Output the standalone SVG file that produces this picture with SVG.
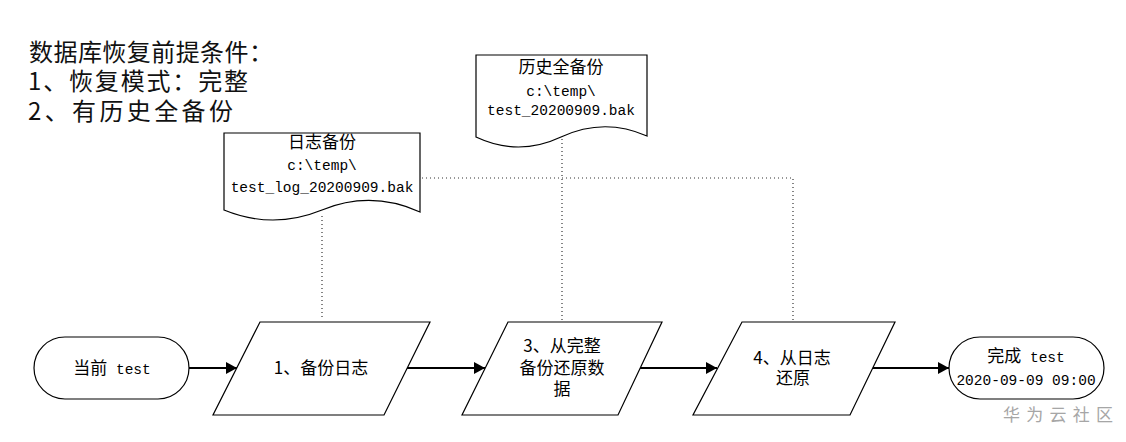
<svg xmlns="http://www.w3.org/2000/svg" width="1126" height="442" viewBox="0 0 1126 442">
<style>
text{fill:#000}
.sh{fill:#fff;stroke:#000;stroke-width:1.2}
.cj{font-family:"Noto Sans CJK SC",sans-serif;font-size:17px}
.mo{font-family:"Liberation Mono","Noto Sans CJK SC",monospace;font-size:14.5px}
.t{text-anchor:middle}
.ttl{font-family:"Noto Sans CJK SC",sans-serif;font-size:24px;fill:#111}
.ln{fill:none;stroke:#000;stroke-width:1.8}
.dot{fill:none;stroke:#333;stroke-width:1.2;stroke-dasharray:1 3}
.wm{font-family:"Noto Sans CJK SC",sans-serif;font-size:17px;fill:#a6a6a6}
</style>
<defs>
<marker id="ah" markerWidth="12" markerHeight="12" refX="11" refY="6" orient="auto" markerUnits="userSpaceOnUse">
<path d="M0,0 L11,6 L0,12 z" fill="#000"/>
</marker>
</defs>
<rect width="1126" height="442" fill="#fff"/>

<g id="title">
<text class="ttl" x="29" y="61" textLength="244" lengthAdjust="spacing">数据库恢复前提条件：</text>
<text class="ttl" x="28" y="90" textLength="220" lengthAdjust="spacing">1、恢复模式：完整</text>
<text class="ttl" x="28" y="120" textLength="205" lengthAdjust="spacing">2、有历史全备份</text>
</g>

<g id="connectors">
<path class="dot" d="M322,216 V320"/>
<path class="dot" d="M562,139 V320"/>
<path class="dot" d="M422,178 H793 V320"/>
<path class="ln" d="M189,368 H237" marker-end="url(#ah)"/>
<path class="ln" d="M407,368 H485" marker-end="url(#ah)"/>
<path class="ln" d="M640,368 H717" marker-end="url(#ah)"/>
<path class="ln" d="M872,368 H949" marker-end="url(#ah)"/>
</g>

<g id="doc-log">
<path class="sh" d="M224,210 V133 H420 V212 Q371,190 322,210 Q273,230 224,210 Z"/>
<text class="cj t" x="322" y="148">日志备份</text>
<text class="mo t" x="322" y="170">c:\temp\</text>
<text class="mo t" x="322" y="192">test_log_20200909.bak</text>
</g>

<g id="doc-full">
<path class="sh" d="M476,137 V55 H647 V136 Q604,117 561,137 Q518.5,157 476,137 Z"/>
<text class="cj t" x="561" y="73">历史全备份</text>
<text class="mo t" x="561" y="96">c:\temp\</text>
<text class="mo t" x="561" y="115">test_20200909.bak</text>
</g>

<g id="start">
<rect class="sh" x="34" y="337" width="155" height="62" rx="31" ry="31"/>
<text class="cj t" x="112" y="374">当前<tspan class="mo"> test</tspan></text>
</g>

<g id="step1">
<path class="sh" d="M260,322 H430 L384,415 H213 Z"/>
<text class="cj t" x="321" y="374">1、备份日志</text>
</g>

<g id="step3">
<path class="sh" d="M508,322 H662 L618,415 H462 Z"/>
<text class="cj t" x="562" y="352">3、从完整</text>
<text class="cj t" x="562" y="374">备份还原数</text>
<text class="cj t" x="562" y="395">据</text>
</g>

<g id="step4">
<path class="sh" d="M742,322 H895 L850,415 H693 Z"/>
<text class="cj t" x="792" y="364">4、从日志</text>
<text class="cj t" x="793" y="384">还原</text>
</g>

<g id="end">
<rect class="sh" x="949" y="337" width="155" height="62" rx="31" ry="31"/>
<text class="cj t" x="1026" y="362">完成<tspan class="mo"> test</tspan></text>
<text class="mo t" x="1026" y="385">2020-09-09 09:00</text>
</g>

<text class="wm" x="1003" y="421" textLength="110" lengthAdjust="spacing">华为云社区</text>
</svg>
